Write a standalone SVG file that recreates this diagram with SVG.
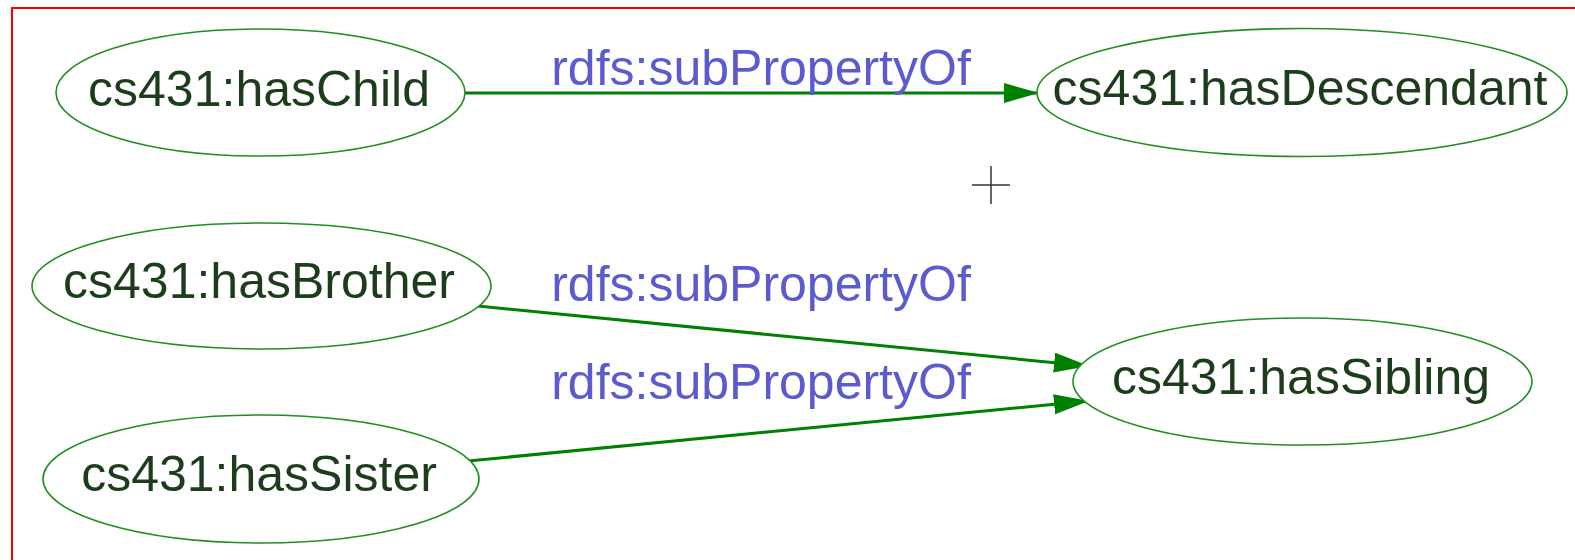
<svg xmlns="http://www.w3.org/2000/svg" width="1575" height="560" viewBox="0 0 1575 560">
  <style>
    .node ellipse { fill: #ffffff; stroke: #1f8f1f; stroke-width: 1.6; }
    .node text { font-family: "Liberation Sans", Arial, sans-serif; font-size: 50px; fill: #1c3c1c; text-anchor: middle; }
    .edge { stroke: #008000; stroke-width: 3; fill: none; marker-end: url(#arrow); }
    .label { font-family: "Liberation Sans", Arial, sans-serif; font-size: 50px; fill: #5b5bcf; text-anchor: middle; }
  </style>
  <defs>
    <marker id="arrow" markerUnits="userSpaceOnUse" markerWidth="36" markerHeight="22" refX="34" refY="10" orient="auto" viewBox="0 0 36 22">
      <path d="M0,0 L35,10 L0,20 z" fill="#008000"/>
    </marker>
  </defs>
  <rect width="1575" height="560" fill="#ffffff"/>
  <path d="M12,560 V8 H1575" fill="none" stroke="#ff0000" stroke-width="2"/>

  <g id="connectors">
    <line class="edge" x1="465" y1="93" x2="1038" y2="93"/>
    <line class="edge" x1="478" y1="306" x2="1088" y2="366"/>
    <line class="edge" x1="468" y1="461" x2="1088" y2="401"/>
    <text class="label" x="761" y="85">rdfs:subPropertyOf</text>
    <text class="label" x="761" y="301">rdfs:subPropertyOf</text>
    <text class="label" x="761" y="399">rdfs:subPropertyOf</text>
  </g>

  <g id="hasChild" class="node">
    <ellipse cx="260.5" cy="92.5" rx="204.5" ry="63.5"/>
    <text x="259" y="106">cs431:hasChild</text>
  </g>
  <g id="hasDescendant" class="node">
    <ellipse cx="1302" cy="92.5" rx="265" ry="64"/>
    <text x="1300" y="105">cs431:hasDescendant</text>
  </g>
  <g id="hasBrother" class="node">
    <ellipse cx="261.5" cy="286" rx="229.5" ry="63"/>
    <text x="259" y="298">cs431:hasBrother</text>
  </g>
  <g id="hasSister" class="node">
    <ellipse cx="261" cy="479" rx="218" ry="64"/>
    <text x="259" y="491">cs431:hasSister</text>
  </g>
  <g id="hasSibling" class="node">
    <ellipse cx="1302.5" cy="381.5" rx="229.5" ry="63.5"/>
    <text x="1301" y="394">cs431:hasSibling</text>
  </g>

  <g id="cursor" stroke="#333333" stroke-width="1.5">
    <line x1="972" y1="185" x2="1010" y2="185"/>
    <line x1="991" y1="166" x2="991" y2="204"/>
  </g>
</svg>
